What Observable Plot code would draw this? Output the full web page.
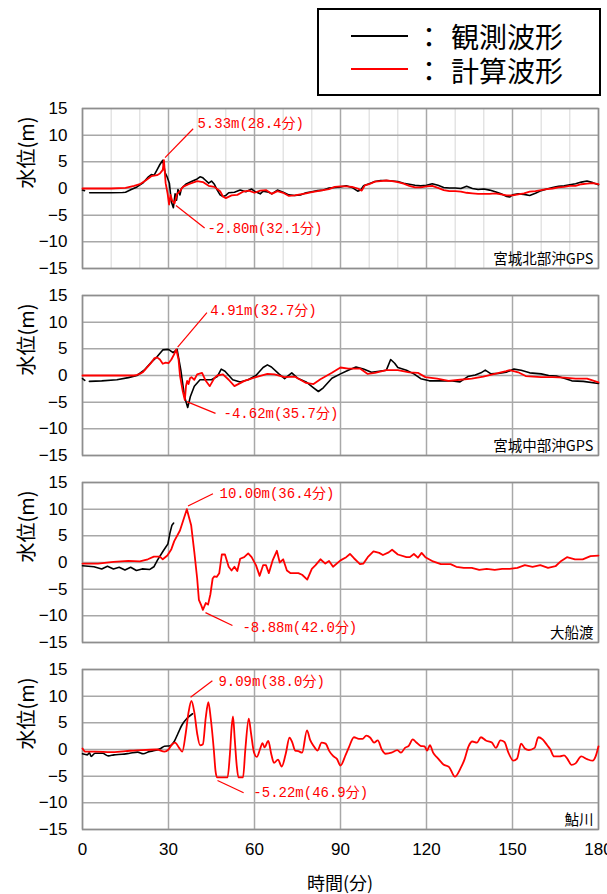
<!DOCTYPE html>
<html><head><meta charset="utf-8">
<script src="https://cdn.jsdelivr.net/npm/d3@7"></script>
<script src="https://cdn.jsdelivr.net/npm/@observablehq/plot@0.6"></script>
<style>
body{margin:0;background:#fff;}
#wrap{position:relative;width:607px;height:894px;overflow:hidden;font-family:"Liberation Sans","Noto Sans CJK JP",sans-serif;}
.panel{position:absolute;left:0;}
#legend{position:absolute;left:317px;top:8px;width:284px;height:88px;border:2px solid #000;box-sizing:border-box;background:#fff;z-index:5;}
.lg-line{position:absolute;left:32px;width:57px;height:2px;}
.lg-colon{position:absolute;left:96px;font-family:"Noto Sans CJK JP",sans-serif;font-size:28px;line-height:28px;height:28px;color:#000;}
.lg-text{position:absolute;left:132px;font-family:"Noto Sans CJK JP",sans-serif;font-size:28px;line-height:28px;height:28px;color:#000;white-space:nowrap;}
#xtitle{position:absolute;left:0;width:680px;text-align:center;top:872px;font-family:"Noto Sans CJK JP",sans-serif;font-size:18px;line-height:20px;color:#000;z-index:6;}
</style></head>
<body><div id="wrap">
<div id="legend">
  <div class="lg-line" style="top:25px;background:#000;"></div>
  <div class="lg-colon" style="top:12px;">：</div>
  <div class="lg-text" style="top:12px;">観測波形</div>
  <div class="lg-line" style="top:58px;background:#ff0000;"></div>
  <div class="lg-colon" style="top:46px;">：</div>
  <div class="lg-text" style="top:46px;">計算波形</div>
</div>
<div id="xtitle">時間(分)</div>
</div>
<script>
// ---- data ----
const stations = ["宮城北部沖GPS", "宮城中部沖GPS", "大船渡", "鮎川"];
const yTicks = [-15, -10, -5, 0, 5, 10, 15];
const majorTicks = [0, 30, 60, 90, 120, 150, 180];
const minorTicks = [10, 20, 40, 50, 70, 80, 100, 110, 130, 140, 160, 170];

const peakLabels = ["5.33m(28.4分)", "4.91m(32.7分)", "10.00m(36.4分)", "9.09m(38.0分)"];
const troughLabels = ["-2.80m(32.1分)", "-4.62m(35.7分)", "-8.88m(42.0分)", "-5.22m(46.9分)"];

// Panel 1: 宮城北部沖GPS
const p1ObsT = [0,0.7,1.2,2.5,6,10,14,15,17,19,21,23,24,25,26,27,28,28.8,29.5,30.3,31,31.7,32.3,32.8,33.3,34,34.5,36,38,40,41,42,43,44,45,46,47,48,49,50,51,53,55,57,59,60,62,63,65,66,68,70,72,74,76,78,80,82,84,86,88,90,92,94,96,97,98,100,102,104,106,108,110,112,114,116,118,120,122,124,126,128,130,132,134,136,138,140,142,144,146,148,149,150,152,154,156,158,160,162,164,166,168,170,172,174,176,178,180];
const p1ObsV = [-0.3,-0.4,NaN,-0.8,-0.8,-0.8,-0.75,-0.7,-0.2,0.3,1.0,2.2,2.6,2.5,3.5,4.5,5.3,3.0,2.2,1.0,-2.5,-3.6,-1.0,-2.2,-0.2,-1.2,0,0.8,1.3,1.8,2.2,2.0,1.5,1.0,1.4,0.8,-0.3,-1.2,-1.5,-1.3,-0.8,-0.7,-0.3,-0.6,-0.1,-0.5,-1.0,-0.5,-0.7,-1.0,-0.3,-0.7,-1.2,-1.3,-1.2,-0.8,-0.6,-0.4,-0.3,0.1,0.2,0.3,0.5,0.2,-0.5,-0.3,0.5,0.9,1.3,1.5,1.5,1.4,1.3,1.0,0.8,0.6,0.5,0.6,0.9,0.6,0.2,0.1,0.1,0.0,0.4,0.0,-0.2,-0.1,-0.3,-0.6,-1.0,-1.5,-1.6,-1.2,-1.0,-1.1,-1.3,-0.9,-0.4,-0.1,0.2,0.4,0.5,0.7,0.9,1.2,1.4,1.1,0.7];
const p1CalT = [0,5,10,15,18,20,22,24,26,27,28,28.4,29,29.7,30.2,30.7,31.3,32.1,33,34,35,37,40,42,44,46,48,49,50,52,54,56,58,60,62,64,66,68,70,72,74,76,78,80,82,84,86,88,90,92,94,96,97.4,98.5,100,102,104,106,108,110,112,114,116,118,120,122,124,126,128,130,132,134,136,138,140,142,144,146,148,150,152,154,156,158,160,162,164,166,168,170,172,174,176,178,180];
const p1CalV = [0,0,0,0.1,0.5,0.8,1.5,2.3,2.5,2.8,3.5,5.33,1.0,-1.0,-3.0,-1.2,-2.3,-2.8,-1.0,-0.5,0.3,0.8,1.4,1.2,0.5,0.3,-0.5,-1.5,-1.8,-1.3,-1.2,-0.6,-0.4,-0.8,-0.4,-0.3,-1.0,-0.5,-0.8,-1.4,-1.3,-1.1,-0.9,-0.7,-0.5,-0.3,-0.1,0.3,0.4,0.4,0.3,0.0,-0.4,0.6,0.8,1.3,1.4,1.5,1.4,1.2,0.9,0.5,0.2,0.2,0.4,0.5,0.1,-0.3,-0.5,-0.5,-0.6,-0.8,-0.9,-1.0,-1.0,-1.0,-0.9,-1.1,-1.3,-1.3,-1.1,-0.9,-0.6,-0.5,-0.3,-0.1,0.0,0.2,0.3,0.5,0.5,0.8,0.9,1.0,0.8];

// Panel 2: 宮城中部沖GPS
const p2ObsT = [0,0.8,1.5,2.4,6.7,12,16,19,21.5,24,26,28,30,31.6,33,34.3,35.6,36.7,37.6,39,41,43,45,47,48.4,49.7,52.4,55,57.8,60.5,63,64.5,65.9,68.5,70.5,73,75,78,80.6,82.3,84,87,90,92.7,95.4,98,100.8,103.5,106,107.5,108.9,110,113,115.6,118,121,125,129,131.7,134.4,137,139,140.5,142.5,145,147.8,150.5,153,156,160,162.6,165.3,168,170.7,174.7,180];
const p2ObsV = [-0.6,-0.9,NaN,-1.1,-1.0,-0.8,-0.4,0,1.0,2.5,3.5,4.8,4.9,4.3,4.9,1.0,-4.0,-6.0,-4.0,-2.0,-0.8,-0.8,-0.8,-0.2,1.2,0.8,-0.8,-1.2,-0.8,0,1.5,2.0,1.6,0.3,-0.6,0.5,-0.5,-1.2,-2.3,-3.0,-2.3,-0.5,0.3,1.0,1.6,1.2,0.6,0.8,1.0,3.0,2.3,1.5,1.0,0.3,-0.6,-1.0,-1.0,-1.0,-1.2,-0.2,0.1,0.5,1.0,0.3,0.4,0.6,1.2,1.0,0.5,0.3,0,-0.1,-0.5,-1.0,-1.1,-1.5];
const p2CalT = [0,10,18,19,20,21,22,24,25,26,27,28,29,30,31,32,32.7,33.5,34,35,35.7,36.1,36.5,37,37.5,38,39,40,41.7,43,44.4,46,47,49,51,53,56.5,60.5,64.5,67,70.5,74,78,80.6,83,87,90,92.7,96.8,99.5,102,106,110,114,117,119.6,123.7,127.7,131.7,135.8,139.8,143.8,147.8,149,152,154.6,160,164,168,172,176,180];
const p2CalV = [0,0,0,0.1,0.3,0.6,1.2,2.4,3.2,3.4,3.0,2.2,2.4,2.3,3.0,4.0,4.91,3.0,0,-3.0,-4.62,-2.0,-1.0,-1.6,-0.5,-0.3,-0.8,0.2,0.5,-1.0,-2.0,-0.5,0.0,0.2,-0.8,-2.0,-1.0,-0.3,0.3,0.2,-0.3,-0.2,-1.4,-1.6,-0.7,0.5,1.5,1.3,1.3,0.3,0.5,1.0,1.0,0.6,0.5,-0.3,-0.6,-1.0,-0.8,-0.6,-0.2,0.3,0.8,1.0,0.6,-0.1,-0.3,-0.3,-0.4,-0.6,-0.6,-1.3];

// Panel 3: 大船渡
const p3ObsT = [0,4,6.7,8.7,10.8,12.8,14.8,16.8,18.8,20.8,23.5,24.9,26.2,28.2,29.8,30.5,31.2,31.8];
const p3ObsV = [-0.6,-0.8,-1.2,-0.7,-1.2,-0.9,-1.4,-0.9,-1.5,-1.2,-1.3,-0.8,0.5,2.2,3.5,5.5,7.0,7.4];
const p3CalT = [0,5.4,10.8,16,20,22.8,24.9,27,28,29.6,31,32,34,36.4,37.9,39,40,40.6,41.4,42,43,43.8,44.6,45.4,46,46.8,47.7,48.6,49.7,51,52,53,54,55,56.4,57.8,59,60.5,61.8,63,64,65,66.4,67.8,68.8,70,71.3,72.6,75.3,76.6,78.4,80,81.3,83,84.7,86,87.4,90,92,93.3,94.7,96.8,98,99.5,101.5,103.5,104.8,106.8,108,110,113,114.2,115.6,117,118.3,119.6,122.3,125,128.4,130.4,133,135.8,138.4,141,143.8,146.4,149,151.7,154.3,157,159.7,162.4,165,167,169,171.8,174.5,177.2,180];
const p3CalV = [-0.2,-0.2,0.1,0.3,0.2,0.6,1.1,1.1,0.6,1.3,2.5,4.0,6.0,10.0,7.0,2.0,-3.0,-7.0,-8.0,-8.88,-7.6,-7.9,-6.0,-3.0,-2.6,-2.7,-2.0,1.5,1.5,-0.8,-1.5,-0.8,-1.6,0.7,1.0,1.7,1.0,-0.5,-2.5,-0.5,-0.5,-2.0,0.5,2.2,0,0.6,-1.5,-2.0,-2.0,-2.3,-3.2,-1.2,-0.5,0.6,-0.2,0.3,-0.8,0.4,1.0,1.6,0.8,-0.3,-0.2,1.0,2.1,1.8,1.4,1.9,2.4,1.5,1.0,1.0,1.6,0.9,1.8,1.0,0.2,-0.3,-0.3,-0.8,-1.0,-1.0,-1.4,-1.2,-1.4,-1.2,-1.2,-1.0,-0.5,-0.8,-0.5,-1.0,-0.7,0.3,1.0,0.6,0.6,1.2,1.3];

// Panel 4: 鮎川
const p4ObsT = [0,1.7,2.4,3,4.4,7,9,11,13.8,16.5,19.2,21.2,23.2,25.2,27.3,28.6,30.6,32,33.3,34.6,36.4,38.4];
const p4ObsV = [-0.8,-1.0,-0.6,-1.3,-0.7,-0.7,-1.2,-1.0,-0.9,-0.7,-0.5,-0.8,-0.4,-0.2,0.2,0.6,0.7,1.5,3.0,4.5,5.8,6.7];
const p4CalT = [0,1,4.4,9.8,15,20.5,26,28.6,30,31.3,32.3,33.7,34.8,36,37,38,39,40,41,42,43,43.9,44.7,45.8,46.4,46.9,50.6,51.4,52,52.5,53.1,53.8,54.4,56,56.8,58,58.8,59.8,60.8,61.9,62.8,63.5,64.8,65.9,66.8,68.2,69.5,70.9,72.2,73.2,74.2,75.3,76.6,78.3,79.4,80.7,82,83.4,84.8,86.1,87.4,88.8,90,91.8,93,94.7,96.4,97.7,99,100.4,101.7,103,104.4,105.7,107.8,109.8,111.1,112.5,113.8,115.2,116.5,117.9,119.3,120.2,121.2,122.3,123.9,125.9,127.9,129.9,131.9,133.3,134.6,136,137.6,139,140.7,142.8,144.2,145.8,147.2,148.5,150.3,151.6,153,154.3,155.7,157.7,159,160.5,162.1,163.2,164.5,166.5,168,169.2,170.6,172,174,176,178,179,180];
const p4CalV = [0.2,-0.4,-0.4,-0.5,-0.3,-0.1,0,-0.4,0,1.0,1.3,0.3,-0.4,3.0,7.0,9.09,7.0,3.0,0.8,1.0,6.0,8.9,6.0,0,-4.0,-5.22,-5.22,-1.0,4.0,6.2,2.0,-3.0,-5.22,-5.22,0,5.8,3.0,-0.5,-1.4,0,1.2,0.4,1.6,-1.0,-2.5,-1.9,-3.2,-0.8,2.2,1.3,-0.2,-0.3,-0.6,3.6,1.8,0.6,-0.2,1.3,1.1,-0.3,-1.2,-1.8,-3.0,-1.0,0.5,2.3,2.0,2.0,2.6,2.2,1.3,1.7,0,-0.8,-0.6,-0.1,-0.6,0.3,0.7,1.9,1.3,0.7,0.6,-0.2,0.8,-0.6,-1.6,-2.8,-3.3,-5.1,-3.5,-1.8,0.5,1.5,1.3,2.3,1.7,1.3,0.3,1.7,1.4,-0.5,-2.1,-1.7,1.1,0.2,-0.1,0.3,2.3,1.9,0.8,0,-1.3,-1.3,-1.1,-1.8,-2.9,-2.6,-1.3,-1.8,-2.1,-1.3,0.6];

// peak / trough points (from the annotation texts)
const peakT = [28.4, 32.7, 36.4, 38.0];
const peakV = [5.33, 4.91, 10.00, 9.09];
const troughT = [32.1, 35.7, 42.0, 46.9];
const troughV = [-2.80, -4.62, -8.88, -5.22];

// ---- layout (label placement in data units) ----
const annotLayout = [
  {pl:[40.1,12.2], pe:[38.6,11.2], ps:[28.8,5.8], tl:[43.6,-7.5], te:[42.6,-7.4], ts:[32.6,-3.2]},
  {pl:[44.6,12.2], pe:[43.4,11.8], ps:[33.2,5.3], tl:[49.2,-7.1], te:[46.4,-7.1], ts:[36.4,-4.9]},
  {pl:[47.8,12.9], pe:[45.5,12.9], ps:[36.8,10.6], tl:[55.8,-12.2], te:[52.3,-11.8], ts:[42.9,-9.4]},
  {pl:[47.4,12.75], pe:[45.3,12.9], ps:[37.7,9.8], tl:[59.6,-8.1], te:[56.2,-8.1], ts:[47.1,-5.8]}
];
const plotTops = [108, 295, 482, 669];
const plotH = 160;
const smooth = [false, false, false, true];

const series = [
  [p1ObsT, p1ObsV, p1CalT, p1CalV],
  [p2ObsT, p2ObsV, p2CalT, p2CalV],
  [p3ObsT, p3ObsV, p3CalT, p3CalV],
  [p4ObsT, p4ObsV, p4CalT, p4CalV]
];

const wrap = document.getElementById("wrap");
const RED = "#ff0000";
const monoFont = "'Liberation Mono','Noto Sans CJK JP',monospace";

series.forEach(([oT, oV, cT, cV], i) => {
  const obs = oT.map((t, k) => ({t, v: oV[k]}));
  const cal = cT.map((t, k) => ({t, v: cV[k]}));
  const last = i === 3;
  const mt = 20, mb = last ? 60 : 10;
  const L = annotLayout[i];
  const curve = smooth[i] ? "monotone-x" : "linear";
  const marks = [];
  if (i === 0) marks.push(Plot.ruleX(minorTicks, {stroke: "#d6d6d6", strokeWidth: 1}));
  marks.push(Plot.ruleX(majorTicks, {stroke: "#a8a8a8", strokeWidth: 1.5}));
  marks.push(Plot.ruleY(yTicks, {stroke: "#a8a8a8", strokeWidth: 1.5}));
  marks.push(Plot.frame({stroke: "#8e8e8e", strokeWidth: 1.5}));
  marks.push(Plot.line(obs, {x: "t", y: "v", stroke: "#000", strokeWidth: 1.6, curve}));
  marks.push(Plot.line(cal, {x: "t", y: "v", stroke: RED, strokeWidth: 1.8, curve}));
  // leader lines
  marks.push(Plot.link([L], {x1: d => d.ps[0], y1: d => d.ps[1], x2: d => d.pe[0], y2: d => d.pe[1], stroke: RED, strokeWidth: 1.2}));
  marks.push(Plot.link([L], {x1: d => d.ts[0], y1: d => d.ts[1], x2: d => d.te[0], y2: d => d.te[1], stroke: RED, strokeWidth: 1.2}));
  marks.push(Plot.text([peakLabels[i]], {x: () => L.pl[0], y: () => L.pl[1], text: d => d, fill: RED, textAnchor: "start", fontSize: 14, fontFamily: monoFont}));
  marks.push(Plot.text([troughLabels[i]], {x: () => L.tl[0], y: () => L.tl[1], text: d => d, fill: RED, textAnchor: "start", fontSize: 14, fontFamily: monoFont}));
  // station label
  marks.push(Plot.text([stations[i]], {text: d => d, frameAnchor: "bottom-right", dx: -5, dy: -5, fontSize: 14.5, fill: "#000", fontFamily: "'Noto Sans CJK JP',sans-serif"}));
  // y title
  marks.push(Plot.text(["水位(m)"], {text: d => d, frameAnchor: "left", rotate: -90, dx: -55, fontSize: 20, fill: "#000", fontFamily: "'Noto Sans CJK JP',sans-serif"}));
  marks.push(Plot.axisY(yTicks, {tickSize: 0, tickPadding: 15, fontSize: 17, label: null}));
  if (last) marks.push(Plot.axisX(majorTicks, {tickSize: 0, tickPadding: 13, fontSize: 17, label: null}));

  const chart = Plot.plot({
    width: 607,
    height: plotH + mt + mb,
    marginTop: mt, marginBottom: mb, marginLeft: 82, marginRight: 9,
    x: last ? {domain: [0, 180]} : {domain: [0, 180], axis: null},
    y: {domain: [-15, 15]},
    style: {background: "transparent", color: "#000", fontFamily: "'Liberation Sans','Noto Sans CJK JP',sans-serif", overflow: "visible"},
    marks
  });
  chart.classList.add("panel");
  chart.style.top = (plotTops[i] - mt) + "px";
  chart.style.position = "absolute";
  wrap.appendChild(chart);
});
</script>
</body></html>
